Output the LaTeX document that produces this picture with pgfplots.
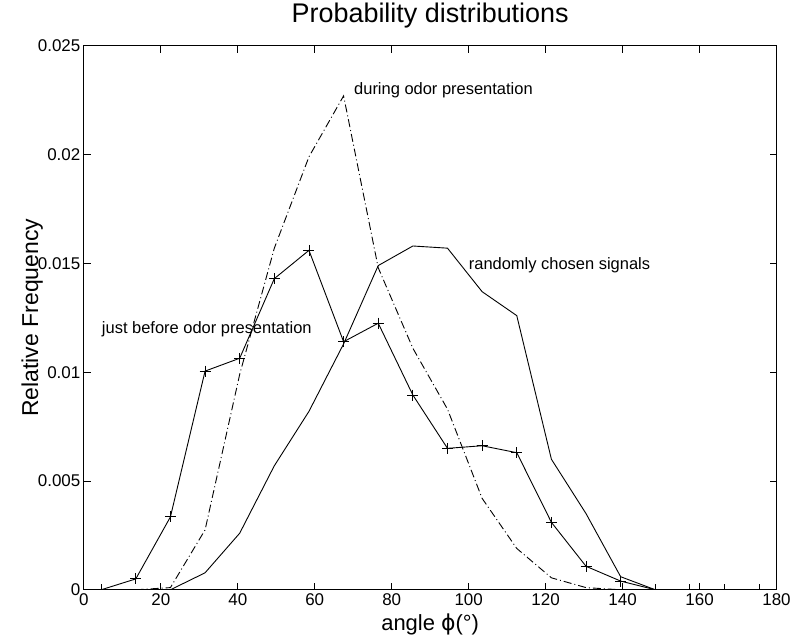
\documentclass[border=0pt]{standalone}
\usepackage{fontspec}
\setmainfont{Liberation Sans}
\newfontfamily\dejavu{DejaVu Sans}
\usepackage{pgfplots}
\pgfplotsset{compat=1.18}
\begin{document}
\begin{tikzpicture}
\begin{axis}[
  scale only axis,
  width=694pt, height=545pt,
  xmin=0, xmax=180, ymin=0, ymax=0.025,
  xtick={0,20,...,180},
  ytick={0,0.005,0.01,0.015,0.02,0.025},
  yticklabels={0,0.005,0.01,0.015,0.02,0.025},
  scaled y ticks=false,
  xtick pos=both, ytick pos=both,
  xticklabel pos=bottom, yticklabel pos=left,
  tick align=inside,
  major tick length=7pt,
  /pgf/number format/assume math mode=true,
  tick label style={font=\fontsize{17}{19}\selectfont},
  axis line style={line width=0.9pt},
  every tick/.style={black, line width=0.8pt},
  title={Probability distributions},
  title style={font=\fontsize{27}{31}\selectfont, at={(axis description cs:0.5,1.0312)}, anchor=base},
  xlabel={angle {\dejavu ϕ}(°)},
  xlabel style={font=\fontsize{22}{26}\selectfont, at={(axis description cs:0.5,-0.0752)}, anchor=base},
  ylabel={Relative Frequency},
  ylabel style={font=\fontsize{23}{27}\selectfont, at={(axis description cs:-0.0660,0.5)}, anchor=base},
  clip marker paths=true,
]
% just before odor presentation
\addplot[black, line width=0.9pt, mark=+, mark size=5.5pt, mark options={solid, line width=0.9pt}] coordinates {
(4.5,0) (13.5,0.0005) (22.5,0.00335) (31.5,0.01005) (40.5,0.01064) (49.5,0.0143) (58.5,0.0156) (67.5,0.0114) (76.5,0.01225) (85.5,0.00895) (94.5,0.0065) (103.5,0.00662) (112.5,0.0063) (121.5,0.0031) (130.5,0.00108) (139.5,0.0004) (148.5,0) (157.5,0) (166.5,0) (175.5,0)
};
% during odor presentation
\addplot[black, line width=0.9pt, dash pattern=on 8pt off 3pt on 1pt off 3pt] coordinates {
(13.5,0) (22.5,0.0001) (31.5,0.00275) (40.5,0.0099) (49.5,0.0157) (58.5,0.0199) (67.5,0.0227) (76.5,0.0148) (85.5,0.0111) (94.5,0.0083) (103.5,0.0042) (112.5,0.0019) (121.5,0.00055) (130.5,0.0001) (139.5,0)
};
% randomly chosen signals
\addplot[black, line width=0.9pt] coordinates {
(13.5,0) (22.5,0) (31.5,0.00078) (40.5,0.0026) (49.5,0.0057) (58.5,0.0082) (67.5,0.0113) (76.5,0.0149) (85.5,0.0158) (94.5,0.0157) (103.5,0.0137) (112.5,0.0126) (121.5,0.0060) (130.5,0.0035) (139.5,0.0006) (148.5,0) (157.5,0)
};
\node[anchor=west, font=\fontsize{16.5}{19}\selectfont, inner sep=0pt] at (axis cs:70.2,0.02298) {during odor presentation};
\node[anchor=west, font=\fontsize{16.5}{19}\selectfont, inner sep=0pt] at (axis cs:100,0.01491) {randomly chosen signals};
\node[anchor=west, font=\fontsize{16.5}{19}\selectfont, inner sep=0pt] at (axis cs:4.66,0.01197) {just before odor presentation};
\end{axis}
\path ([xshift=-84pt,yshift=-53pt]current axis.south west) rectangle ([xshift=16pt,yshift=42pt]current axis.north east);
\end{tikzpicture}
\end{document}
